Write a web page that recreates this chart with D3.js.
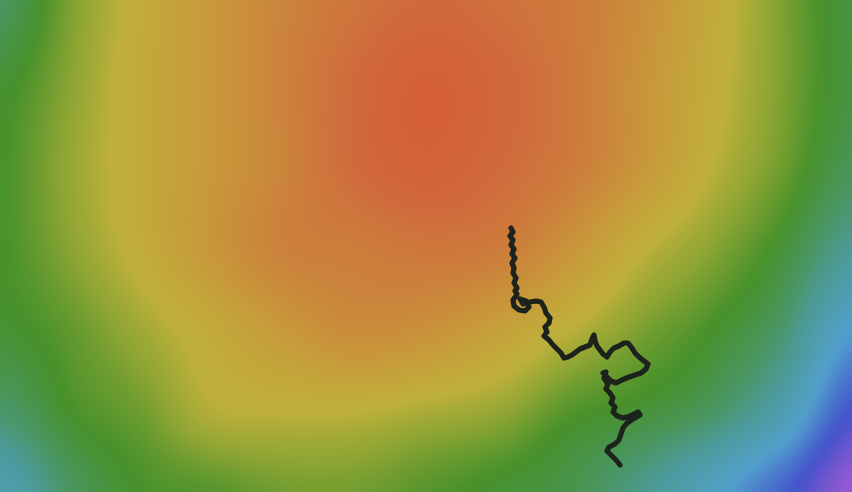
<!DOCTYPE html>
<html>
<head>
<meta charset="utf-8">
<script src="https://cdn.jsdelivr.net/npm/d3@7"></script>
<style>
  html, body { margin: 0; padding: 0; overflow: hidden; background: #fff; }
  #wrap { position: relative; width: 852px; height: 492px; }
  canvas, svg { position: absolute; left: 0; top: 0; }
</style>
</head>
<body>
<div id="wrap">
  <canvas id="field" width="852" height="492"></canvas>
  <svg id="plot" width="852" height="492"></svg>
</div>
<script>
// sample positions of the loss surface
const gridX = [0, 71, 142, 213, 284, 355, 426, 497, 568, 639, 710, 781, 852];
const gridY = [0, 82, 164, 246, 328, 410, 492];

// level of the surface at each sample, 0 = peak (red) ... 9 = purple
const levels = [
  [5.5, 4.6, 3.8, 3.0, 2.2, 1.5, 1.0, 1.3, 1.8, 2.6, 3.7, 4.6, 5.2],
  [5.1, 4.5, 3.7, 3.0, 2.1, 1.0, 0.2, 0.8, 1.7, 2.8, 3.8, 4.6, 5.2],
  [5.0, 4.4, 3.7, 3.0, 2.2, 1.0, 0.4, 1.0, 1.8, 2.9, 4.0, 4.7, 5.4],
  [5.0, 4.5, 3.8, 2.9, 2.1, 1.9, 1.6, 1.8, 2.8, 3.9, 4.5, 5.1, 6.0],
  [5.1, 4.8, 4.3, 3.7, 3.0, 2.5, 2.7, 3.3, 4.0, 4.6, 5.0, 5.6, 7.0],
  [5.6, 5.0, 4.7, 4.1, 4.0, 4.0, 4.2, 4.4, 4.9, 5.1, 5.5, 6.4, 8.0],
  [6.5, 5.5, 5.0, 4.9, 4.7, 4.7, 4.9, 5.1, 5.3, 5.9, 6.8, 7.8, 8.9]
];

const levelStops  = [0, 1, 2, 3, 4, 4.5, 5, 6, 7, 8, 9];
const levelColors = ["#d55d38", "#d06a3c", "#cc7f3b", "#c8983a", "#bfb03a",
                     "#8da533", "#47912b", "#4c9a96", "#52a0cc", "#4352cc", "#a65bd2"];

// optimiser trajectory
const walkX = [511, 513, 510, 513, 511, 514, 512, 515, 512, 514, 513, 516, 514, 517, 515, 517,
  516, 513, 514, 519, 525, 529, 526, 520, 523, 530, 536, 541,
  544, 546, 550, 549, 545, 547, 544, 549, 553, 557, 561, 564, 568, 572, 576, 580, 585, 590,
  592, 594, 595, 597, 600, 603, 607, 610, 614, 619, 624, 628, 632, 635, 639, 644, 648, 646,
  641, 635, 629, 622, 616, 611, 607, 603, 606, 604, 608, 606, 610, 613, 611, 615, 613, 617,
  623, 630, 638, 640, 633, 627, 623, 621, 619, 615, 609, 607, 611, 616, 620];
const walkY = [228, 232, 236, 240, 245, 249, 254, 258, 263, 268, 273, 278, 283, 288, 291, 294,
  296, 300, 306, 310, 311, 307, 301, 299, 304, 302, 301, 302,
  307, 313, 318, 323, 327, 332, 336, 340, 345, 349, 353, 358, 357, 355, 352, 349, 347, 345,
  339, 335, 341, 346, 350, 354, 357, 352, 348, 346, 343, 343, 348, 353, 357, 361, 364, 369,
  373, 375, 377, 380, 383, 381, 377, 373, 372, 378, 384, 389, 393, 398, 403, 407, 412, 416,
  418, 416, 412, 415, 419, 423, 428, 434, 440, 444, 447, 451, 455, 460, 465];

const width = 852, height = 492;

const x = d3.scaleLinear().domain([0, 852]).range([0, width]);
const y = d3.scaleLinear().domain([0, 492]).range([0, height]);

// pixel -> fractional grid index
const colIndex = d3.scaleLinear().domain(gridX.map(x)).range(d3.range(gridX.length)).clamp(true);
const rowIndex = d3.scaleLinear().domain(gridY.map(y)).range(d3.range(gridY.length)).clamp(true);

const color = d3.scaleLinear().domain(levelStops).range(levelColors).clamp(true);

// lookup table so the per-pixel loop stays cheap
const lutSize = 1000;
const lutMax = 9.5;
const lut = d3.range(lutSize).map(i => d3.rgb(color(i / (lutSize - 1) * lutMax)));

// catmull-rom between samples so the bands come out smooth
function cubic(p0, p1, p2, p3, t) {
  return p1 + 0.5 * t * (p2 - p0 + t * (2 * p0 - 5 * p1 + 4 * p2 - p3 + t * (3 * (p1 - p2) + p3 - p0)));
}
const nc = gridX.length, nr = gridY.length;
const cl = (v, n) => Math.max(0, Math.min(n - 1, v));

function levelAt(px, py) {
  const fc = colIndex(px), fr = rowIndex(py);
  const c1 = Math.min(Math.floor(fc), nc - 2), r1 = Math.min(Math.floor(fr), nr - 2);
  const tx = fc - c1, ty = fr - r1;
  const rows = [-1, 0, 1, 2].map(dr => {
    const row = levels[cl(r1 + dr, nr)];
    return cubic(row[cl(c1 - 1, nc)], row[c1], row[c1 + 1], row[cl(c1 + 2, nc)], tx);
  });
  return cubic(rows[0], rows[1], rows[2], rows[3], ty);
}

// draw the surface into an offscreen canvas with a margin, then blur onto the page
const m = 24;
const off = document.createElement("canvas");
off.width = width + 2 * m;
off.height = height + 2 * m;
const octx = off.getContext("2d");
const img = octx.createImageData(off.width, off.height);
for (let j = 0; j < off.height; j++) {
  for (let i = 0; i < off.width; i++) {
    const v = levelAt(i - m, j - m);
    const k = Math.max(0, Math.min(lutSize - 1, Math.round(v / lutMax * (lutSize - 1))));
    const col = lut[k];
    const p = (j * off.width + i) * 4;
    img.data[p] = col.r;
    img.data[p + 1] = col.g;
    img.data[p + 2] = col.b;
    img.data[p + 3] = 255;
  }
}
octx.putImageData(img, 0, 0);

const ctx = document.getElementById("field").getContext("2d");
ctx.filter = "blur(5px)";
ctx.drawImage(off, -m, -m);
ctx.filter = "none";

// trajectory
const svg = d3.select("#plot");
svg.append("defs").append("filter")
  .attr("id", "soft")
  .append("feGaussianBlur")
  .attr("stdDeviation", 0.7);

const walk = walkX.map((d, i) => [d, walkY[i]]);
const line = d3.line()
  .x(d => x(d[0]))
  .y(d => y(d[1]))
  .curve(d3.curveLinear);

svg.append("path")
  .datum(walk)
  .attr("d", line)
  .attr("fill", "none")
  .attr("stroke", "#1c241e")
  .attr("stroke-width", 5.2)
  .attr("stroke-linejoin", "round")
  .attr("stroke-linecap", "round")
  .attr("filter", "url(#soft)");
</script>
</body>
</html>
